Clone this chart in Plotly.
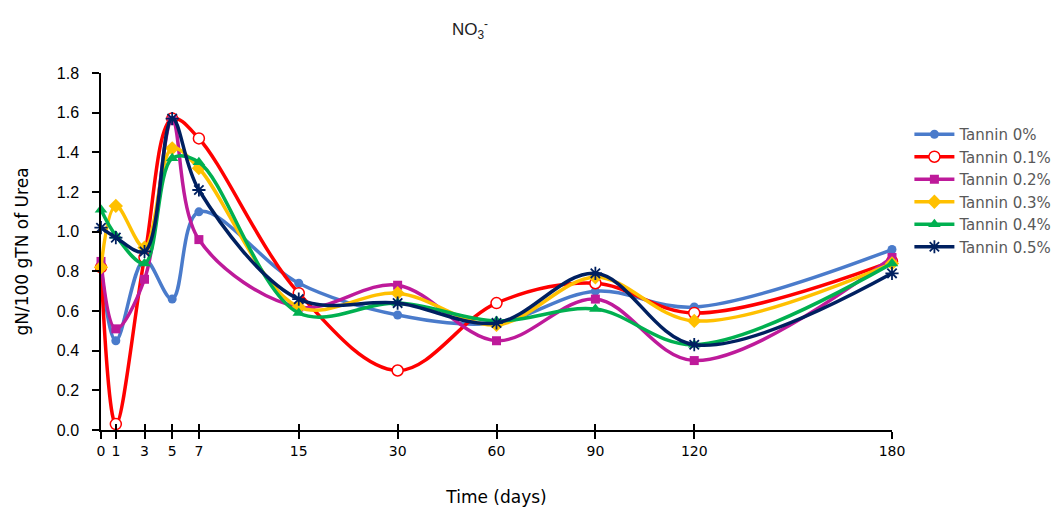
import plotly.graph_objects as go

# Sampling days and their placement along the (non-linear) time axis
day_labels = ["0", "1", "3", "5", "7", "15", "30", "60", "90", "120", "180"]
day_pos = [0, 0.15, 0.44, 0.72, 0.99, 2.0, 3.0, 4.0, 5.0, 6.0, 8.0]

# NO3- (gN/100 gTN of urea) for each tannin level
tannin_0 = [0.83, 0.45, 0.86, 0.66, 1.10, 0.74, 0.58, 0.54, 0.70, 0.62, 0.91]
tannin_01 = [0.82, 0.03, 0.87, 1.57, 1.47, 0.69, 0.30, 0.64, 0.74, 0.59, 0.85]
tannin_02 = [0.85, 0.51, 0.76, 1.56, 0.96, 0.62, 0.73, 0.45, 0.66, 0.35, 0.87]
tannin_03 = [0.82, 1.13, 0.92, 1.42, 1.32, 0.62, 0.69, 0.53, 0.77, 0.55, 0.84]
tannin_04 = [1.11, 0.98, 0.84, 1.37, 1.35, 0.59, 0.64, 0.55, 0.61, 0.43, 0.84]
tannin_05 = [1.02, 0.97, 0.90, 1.57, 1.21, 0.66, 0.64, 0.54, 0.79, 0.43, 0.79]

y_ticks = [0.0, 0.2, 0.4, 0.6, 0.8, 1.0, 1.2, 1.4, 1.6, 1.8]

series = [
    ("Tannin 0%", tannin_0, "#4A7BCB", dict(symbol="circle", size=9, color="#4A7BCB")),
    ("Tannin 0.1%", tannin_01, "#FF0000",
     dict(symbol="circle", size=11, color="white", line=dict(color="#FF0000", width=1.5))),
    ("Tannin 0.2%", tannin_02, "#BE1A9A", dict(symbol="square", size=9, color="#BE1A9A")),
    ("Tannin 0.3%", tannin_03, "#FFC000", dict(symbol="diamond", size=11, color="#FFC000")),
    ("Tannin 0.4%", tannin_04, "#00B050", dict(symbol="triangle-up", size=11, color="#00B050")),
    ("Tannin 0.5%", tannin_05, "#002060",
     dict(symbol="asterisk-open", size=11, color="#002060", line=dict(color="#002060", width=1.8))),
]

fig = go.Figure()
for name, vals, col, mk in series:
    fig.add_trace(go.Scatter(
        x=day_pos, y=vals, name=name, mode="lines+markers",
        line=dict(color=col, width=3.5, shape="spline", smoothing=1.0),
        marker=mk, cliponaxis=False,
    ))

# invisible helper trace for the inward half of the crossing x ticks
fig.add_trace(go.Scatter(x=[day_pos[0]], y=[0], xaxis="x2", showlegend=False,
                         hoverinfo="skip", mode="markers", marker=dict(opacity=0)))

font_main = "DejaVu Sans"
fig.update_layout(
    width=1061, height=517,
    margin=dict(l=101, r=169, t=73, b=87, autoexpand=False),
    plot_bgcolor="white", paper_bgcolor="white",
    title=dict(text="NO<sub>3</sub><sup>-</sup>", x=0.443, xanchor="center", y=0.955,
               font=dict(family="Liberation Sans", size=17, color="#222")),
    xaxis=dict(range=[0, 8], tickvals=day_pos, ticktext=day_labels,
               showgrid=False, zeroline=False, showline=True, linecolor="black", linewidth=1.5,
               ticks="outside", ticklen=7, tickwidth=1.5, tickcolor="black",
               tickfont=dict(family=font_main, size=14, color="black"),
               title=dict(text="Time (days)", font=dict(family=font_main, size=17, color="black"),
                          standoff=34)),
    xaxis2=dict(range=[0, 8], tickvals=day_pos, showticklabels=False,
                overlaying="x", side="bottom", showgrid=False, zeroline=False,
                ticks="inside", ticklen=6, tickwidth=1.5, tickcolor="black", showline=False),
    yaxis=dict(range=[0, 1.8], tickvals=y_ticks, tickformat=".1f",
               showgrid=False, zeroline=False, showline=True, linecolor="black", linewidth=1.5,
               ticks="outside", ticklen=7, tickwidth=1.5, tickcolor="black",
               ticklabelstandoff=10,
               tickfont=dict(family="Liberation Sans", size=16, color="black"),
               title=dict(text="gN/100 gTN of Urea",
                          font=dict(family=font_main, size=17, color="black"), standoff=24)),
    legend=dict(x=1.022, y=0.874, xanchor="left", yanchor="top",
                font=dict(family=font_main, size=15, color="#595959"),
                tracegroupgap=0, itemwidth=40, bgcolor="rgba(0,0,0,0)"),
)

fig.write_html("out.html")
